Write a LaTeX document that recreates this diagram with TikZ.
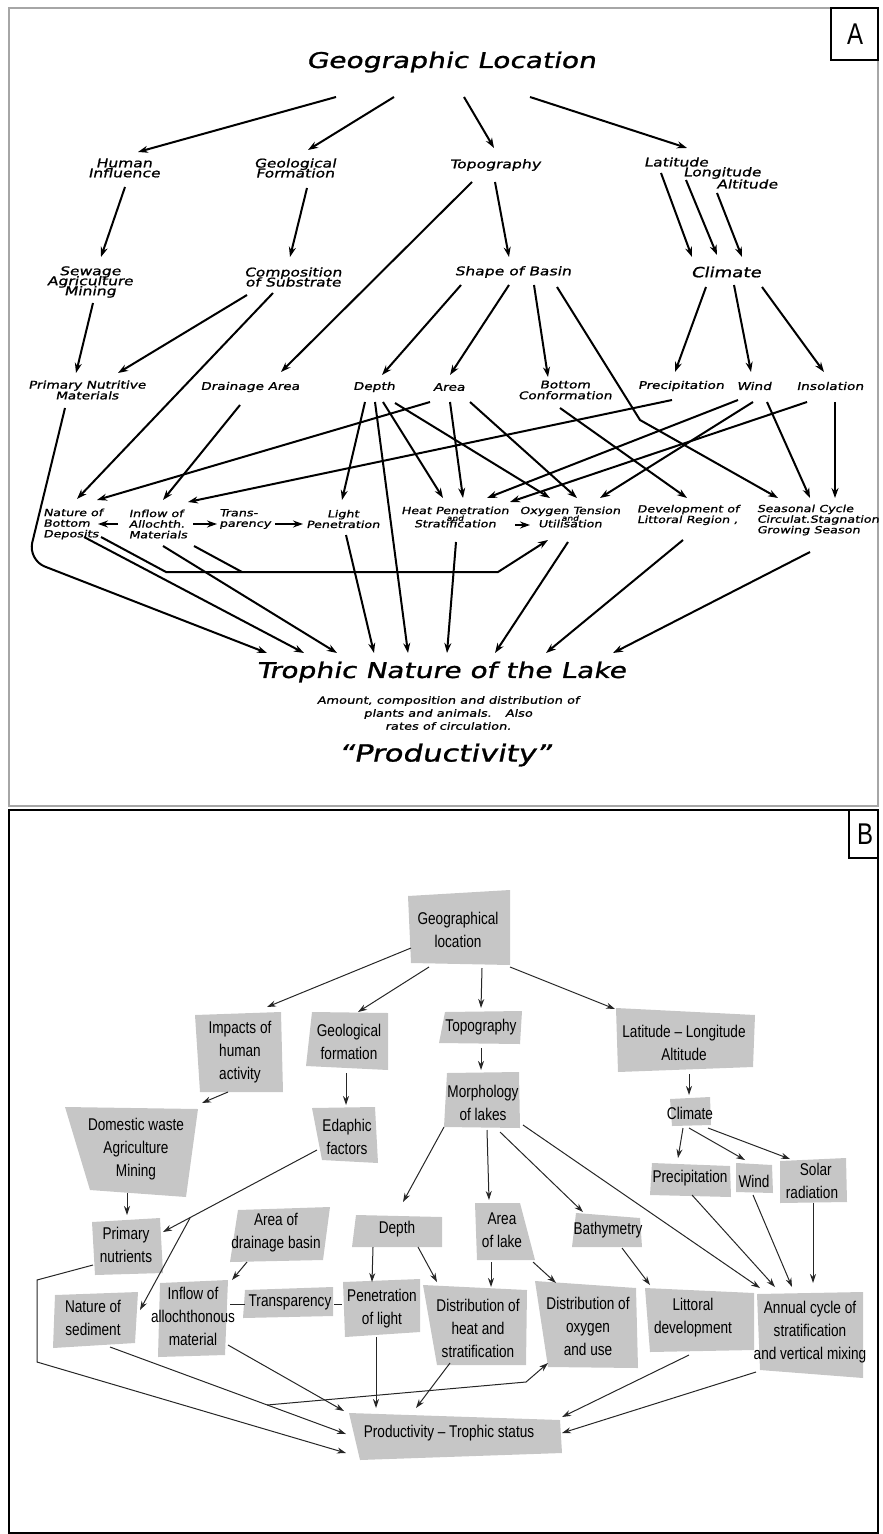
\documentclass[tikz,border=0pt]{standalone}
\usepackage{fontspec}
\usetikzlibrary{arrows.meta}
\newfontfamily\handfont{DejaVu Sans}[FakeStretch=1.3,FakeSlant=0.2,FakeBold=1.2]
\newfontfamily\boxfont{Liberation Sans}[FakeStretch=0.8]
\newcommand{\hbig} {\fontsize{10.8}{12}\selectfont\handfont}
\newcommand{\hprod}{\fontsize{11.8}{12}\selectfont\handfont}
\newcommand{\hmid} {\fontsize{6}{5}\selectfont\lineskiplimit=-20pt\handfont}
\newcommand{\hclim}{\fontsize{7}{6}\selectfont\handfont}
\newcommand{\hrow} {\fontsize{5.3}{5.4}\selectfont\lineskiplimit=-20pt\handfont}
\newcommand{\hsm}  {\fontsize{4.9}{5.3}\selectfont\lineskiplimit=-20pt\handfont}
\newcommand{\hnote}{\fontsize{5}{6.5}\selectfont\handfont}
\newcommand{\hand}{\fontsize{3.5}{3.5}\selectfont and}
\newcommand{\bx}   {\fontsize{8.5}{11.5}\selectfont\boxfont}
\definecolor{boxgray}{HTML}{C6C6C6}

\begin{document}
\begin{tikzpicture}[x=0.5pt,y=-0.5pt,
  hand/.style={inner sep=0pt,align=center},
  ln/.style={line width=1pt,-{Stealth[length=5pt,width=3.5pt]}},
  lp/.style={line width=1pt},
  gb/.style={inner sep=0pt,align=center,font=\bx},
  bl/.style={line width=0.5pt,draw=black!85,-{Stealth[length=4.5pt,width=3pt]}},
  bp/.style={line width=0.5pt,draw=black!85}]
  \useasboundingbox (0,0) rectangle (882,1534);

  % panel A
  \draw[gray!70,line width=1.2pt] (9,8) rectangle (878,806);
  \draw[line width=0.8pt] (831,8) rectangle (878,60);
  \node[font=\fontsize{15}{15}\selectfont\boxfont] (tagA) at (855,34) {A};

  \node[hand,font=\hbig] (gl) at (451,62) {Geographic Location};
  \node[hand,font=\hmid] (hum) at (124,168) {Human\\Influence};
  \node[hand,font=\hmid] (geoform) at (295,168) {Geological\\Formation};
  \node[hand,font=\hmid] (topog) at (495,165) {Topography};
  \node[hand,font=\hmid] (lati) at (676,162) {Latitude};
  \node[hand,font=\hmid] (longi) at (722,173) {Longitude};
  \node[hand,font=\hmid] (alti) at (747,184) {Altitude};
  \node[hand,font=\hmid] (sew) at (90,282) {Sewage\\Agriculture\\Mining};
  \node[hand,font=\hmid] (comp) at (293,277) {Composition\\of Substrate};
  \node[hand,font=\hmid] (shape) at (513,272) {Shape of Basin};
  \node[hand,font=\hclim] (clima) at (726,272) {Climate};
  \node[hand,font=\hrow] (pnm) at (87,390) {Primary Nutritive\\Materials};
  \node[hand,font=\hrow] (drainA) at (250,387) {Drainage Area};
  \node[hand,font=\hrow] (depthA) at (374,387) {Depth};
  \node[hand,font=\hrow] (areaA) at (449,387) {Area};
  \node[hand,font=\hrow] (bottom) at (565,390) {Bottom\\Conformation};
  \node[hand,font=\hrow] (precA) at (681,386) {Precipitation};
  \node[hand,font=\hrow] (windA) at (754,386) {Wind};
  \node[hand,font=\hrow] (insol) at (830,386) {Insolation};
  \node[hand,font=\hsm,align=left] (natA) at (73,524) {Nature of\\Bottom\\Deposits};
  \node[hand,font=\hsm,align=left] (inflA) at (158,524) {Inflow of\\Allochth.\\Materials};
  \node[hand,font=\hsm,align=left] (transA) at (245,519) {Trans-\\parency};
  \node[hand,font=\hsm] (lightA) at (343,519) {Light\\Penetration};
  \node[hand,font=\hsm] (heatA) at (455,517) {Heat Penetration\\[-2pt]\hand\\[-2pt]Stratification};
  \node[hand,font=\hsm] (oxyA) at (570,517) {Oxygen Tension\\[-2pt]\hand\\[-2pt]Utilisation};
  \node[hand,font=\hsm,align=left] (devA) at (688,515) {Development of\\Littoral Region ,};
  \node[hand,font=\hsm,align=left] (seasA) at (818,520) {Seasonal Cycle\\Circulat.Stagnation\\Growing Season};
  \node[hand,font=\hbig] (troph) at (441,672) {Trophic Nature of the Lake};
  \node[hand,font=\hnote] (amount) at (448,713) {Amount, composition and distribution of\\plants and animals. \ \ Also\\rates of circulation.};
  \node[hand,font=\hprod] (prodA) at (445,755) {“Productivity”};

  \coordinate (kinkA) at (640,420);
  \coordinate (busA1) at (166,572);
  \coordinate (busA2) at (498,572);
  \coordinate (busA3) at (242,572);
  \coordinate (pnmbend) at (28,560);

  \foreach \a/\sx/\sy/\b/\ex/\ey in {
    gl/-115/35/hum/14/-16, gl/-57/35/geoform/13/-18, gl/13/35/topog/-1/-17,
    gl/79/35/lati/11/-14, hum/1/19/sew/11/-25, geoform/12/20/comp/-3/-20,
    topog/-23/17/drainA/31/-15, topog/0/17/shape/-4/-15,
    lati/-15/11/clima/-34/-15, longi/-36/7/clima/-9/-17, alti/-30/9/clima/16/-15,
    sew/3/21/pnm/-11/-17, comp/-46/18/pnm/31/-17, comp/-20/16/natA/4/-25,
    shape/-52/13/depthA/8/-12, shape/-4/13/areaA/1/-12, shape/21/13/bottom/-17/-13,
    clima/-20/15/precA/-6/-14, clima/8/13/windA/-3/-14, clima/36/15/insol/-6/-14,
    drainA/-10/18/inflA/5/-24, areaA/-19/15/natA/24/-24, precA/-9/14/inflA/30/-22,
    depthA/-9/15/lightA/-1/-19, depthA/1/15/troph/-33/-19, depthA/9/15/heatA/-12/-19,
    depthA/21/16/oxyA/-20/-19, areaA/1/15/heatA/8/-19, areaA/21/15/oxyA/7/-19,
    bottom/-5/18/devA/-1/-17, windA/-16/14/heatA/32/-19, windA/-1/16/oxyA/30/-19,
    windA/13/16/seasA/-8/-22, insol/-23/16/heatA/55/-15, insol/5/16/seasA/17/-22,
    inflA/-40/0/natA/25/0, inflA/35/0/transA/-28/5, transA/30/5/lightA/-40/5,
    heatA/60/8/oxyA/-40/8,
    natA/11/13/troph/-137/-19, inflA/5/22/troph/-104/-19, lightA/3/16/troph/-67/-19,
    heatA/1/25/troph/6/-19, oxyA/-2/25/troph/54/-19, devA/-5/25/troph/105/-19,
    seasA/-8/32/troph/172/-19} {
    \draw[ln] ([shift={(\sx,\sy)}]\a.center) -- ([shift={(\ex,\ey)}]\b.center);
  }
  \draw[ln] ([shift={(44,15)}]shape.center) -- (kinkA) -- ([shift={(-40,-22)}]seasA.center);
  \draw[ln] ([shift={(28,13)}]natA.center) -- (busA1) -- (busA2) -- ([shift={(-22,23)}]oxyA.center);
  \draw[lp] ([shift={(36,22)}]inflA.center) -- (busA3);
  \draw[ln,rounded corners=9pt] ([shift={(-22,18)}]pnm.center) -- (pnmbend) -- ([shift={(-174,-19)}]troph.center);

  % panel B
  \draw[line width=1pt] (9,810) rectangle (878,1533);
  \draw[line width=0.8pt] (849,810) rectangle (878,858);
  \node[font=\fontsize{15}{15}\selectfont\boxfont] (tagB) at (865,834) {B};

  \fill[boxgray] (408,896) -- (510,890) -- (510,965) -- (411,963) -- cycle;
  \fill[boxgray] (195,1015) -- (281,1012) -- (283,1092) -- (200,1092) -- cycle;
  \fill[boxgray] (312,1012) -- (388,1013) -- (388,1070) -- (306,1066) -- cycle;
  \fill[boxgray] (445,1012) -- (522,1011) -- (520,1044) -- (439,1043) -- cycle;
  \fill[boxgray] (616,1008) -- (755,1015) -- (753,1067) -- (618,1072) -- cycle;
  \fill[boxgray] (65,1107) -- (198,1109) -- (186,1197) -- (90,1190) -- cycle;
  \fill[boxgray] (312,1108) -- (375,1107) -- (378,1163) -- (322,1160) -- cycle;
  \fill[boxgray] (447,1073) -- (519,1072) -- (520,1128) -- (444,1127) -- cycle;
  \fill[boxgray] (670,1099) -- (710,1097) -- (711,1125) -- (672,1126) -- cycle;
  \fill[boxgray] (652,1163) -- (730,1166) -- (731,1197) -- (650,1195) -- cycle;
  \fill[boxgray] (736,1163) -- (772,1165) -- (773,1193) -- (736,1192) -- cycle;
  \fill[boxgray] (780,1161) -- (846,1158) -- (847,1202) -- (780,1203) -- cycle;
  \fill[boxgray] (92,1222) -- (160,1218) -- (163,1273) -- (95,1275) -- cycle;
  \fill[boxgray] (238,1210) -- (330,1207) -- (323,1260) -- (230,1262) -- cycle;
  \fill[boxgray] (356,1215) -- (442,1217) -- (442,1247) -- (352,1247) -- cycle;
  \fill[boxgray] (475,1203) -- (520,1203) -- (535,1260) -- (477,1260) -- cycle;
  \fill[boxgray] (576,1213) -- (640,1218) -- (642,1247) -- (572,1247) -- cycle;
  \fill[boxgray] (55,1295) -- (138,1292) -- (135,1343) -- (53,1348) -- cycle;
  \fill[boxgray] (160,1283) -- (228,1280) -- (225,1355) -- (158,1357) -- cycle;
  \fill[boxgray] (245,1290) -- (333,1287) -- (333,1316) -- (243,1318) -- cycle;
  \fill[boxgray] (343,1282) -- (420,1279) -- (420,1332) -- (345,1337) -- cycle;
  \fill[boxgray] (423,1285) -- (527,1290) -- (526,1365) -- (437,1365) -- cycle;
  \fill[boxgray] (535,1281) -- (636,1288) -- (638,1368) -- (548,1367) -- cycle;
  \fill[boxgray] (645,1288) -- (754,1293) -- (754,1350) -- (650,1352) -- cycle;
  \fill[boxgray] (757,1294) -- (863,1292) -- (863,1378) -- (760,1370) -- cycle;
  \fill[boxgray] (349,1413) -- (560,1420) -- (562,1453) -- (360,1460) -- cycle;

  \node[gb] (geo) at (458,930) {Geographical\\location};
  \node[gb] (imp) at (240,1052) {Impacts of\\human\\activity};
  \node[gb] (geol) at (349,1042) {Geological\\formation};
  \node[gb] (topo) at (481,1027) {Topography};
  \node[gb] (lat) at (684,1043) {Latitude – Longitude\\Altitude};
  \node[gb] (dom) at (136,1149) {Domestic waste\\Agriculture\\Mining};
  \node[gb] (eda) at (347,1137) {Edaphic\\factors};
  \node[gb] (morph) at (483,1103) {Morphology\\of lakes};
  \node[gb] (clim) at (690,1113) {Climate};
  \node[gb] (prec) at (690,1178) {Precipitation};
  \node[gb] (wind) at (754,1181) {Wind};
  \node[gb] (solar) at (812,1181) {\ \ Solar\\radiation};
  \node[gb] (prim) at (126,1245) {Primary\\nutrients};
  \node[gb] (drain) at (276,1233) {Area of\\drainage basin};
  \node[gb] (depth) at (397,1229) {Depth};
  \node[gb] (arealake) at (502,1230) {Area\\of lake};
  \node[gb] (bathy) at (608,1230) {Bathymetry};
  \node[gb] (nat) at (93,1318) {Nature of\\sediment};
  \node[gb] (inflow) at (193,1316) {Inflow of\\allochthonous\\material};
  \node[gb] (trans) at (290,1302) {Transparency};
  \node[gb] (pen) at (382,1309) {Penetration\\of light};
  \node[gb] (dheat) at (478,1328) {Distribution of\\heat and\\stratification};
  \node[gb] (doxy) at (588,1326) {Distribution of\\oxygen\\and use};
  \node[gb] (litt) at (693,1318) {Littoral\\development};
  \node[gb] (annual) at (810,1332) {Annual cycle of\\stratification\\and vertical mixing};
  \node[gb] (prod) at (449,1433) {Productivity – Trophic status};

  \coordinate (edabr) at (190,1218);
  \coordinate (primc1) at (37,1280);
  \coordinate (primc2) at (37,1362);
  \coordinate (busB) at (267,1405);
  \coordinate (busBk) at (526,1382);

  \foreach \a/\sx/\sy/\b/\ex/\ey in {
    geo/-47/18/imp/27/-45, geo/-29/37/geol/9/-30, geo/24/38/topo/0/-19,
    geo/52/37/lat/-69/-34, imp/-12/40/dom/66/-46, geol/-3/31/eda/-1/-32,
    topo/0/21/morph/-2/-33, lat/5/31/clim/-1/-18, dom/-9/44/prim/1/-30,
    eda/-30/13/prim/37/-13, drain/-29/29/inflow/39/-36,
    depth/-24/18/pen/-10/-27, depth/21/18/dheat/-41/-46,
    morph/-39/24/depth/6/-27, morph/4/27/arealake/-13/-30,
    morph/17/29/bathy/-25/-18, morph/40/22/annual/-50/-44,
    clim/-7/15/prec/-12/-20, clim/-1/15/wind/-9/-21, clim/18/15/solar/-22/-22,
    prec/2/17/annual/-35/-45, wind/-1/14/annual/-18/-45, solar/1/22/annual/3/-49,
    bathy/14/18/litt/-43/-33, arealake/-11/32/dheat/13/-41,
    arealake/31/32/doxy/-32/-43,
    nat/17/29/prod/-103/1, inflow/35/29/prod/-105/-22, pen/-6/28/prod/-73/-25,
    dheat/-28/35/prod/-33/-25, litt/-4/37/prod/113/-16, annual/-54/40/prod/113/0} {
    \draw[bl] ([shift={(\sx,\sy)}]\a.center) -- ([shift={(\ex,\ey)}]\b.center);
  }
  \draw[bl] (edabr) -- ([shift={(47,-8)}]nat.center);
  \draw[bl] ([shift={(-33,20)}]prim.center) -- (primc1) -- (primc2) -- ([shift={(-103,20)}]prod.center);
  \draw[bl] (busB) -- (busBk) -- ([shift={(-40,37)}]doxy.center);
  \draw[bp] ([shift={(37,-12)}]inflow.center) -- ([shift={(-45,2)}]trans.center);
  \draw[bp] ([shift={(44,2)}]trans.center) -- ([shift={(-40,-5)}]pen.center);
\end{tikzpicture}
\end{document}
